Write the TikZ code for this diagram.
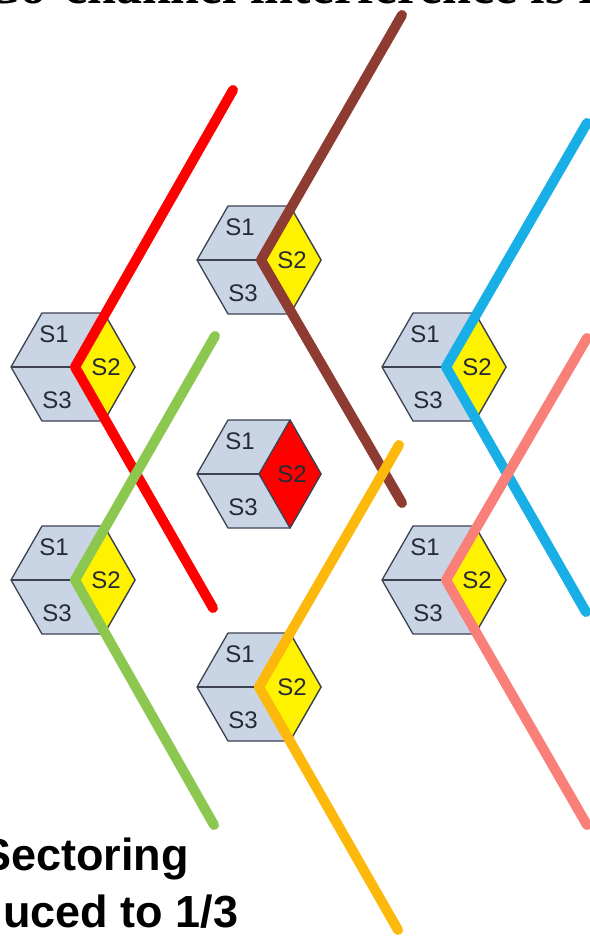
\documentclass[tikz,border=0pt]{standalone}
\usepackage{fontspec}
\setmainfont{Liberation Sans}
\newfontfamily\titlefont{Liberation Serif}
\usetikzlibrary{calc}
\definecolor{sectorblue}{HTML}{C9D4E4}
\definecolor{edgegray}{HTML}{3C4250}
\definecolor{labelgray}{HTML}{252A35}
\definecolor{brownline}{HTML}{8E3B32}
\definecolor{blueline}{HTML}{18AEE6}
\definecolor{greenline}{HTML}{8CC850}
\definecolor{orangeline}{HTML}{FDB90B}
\definecolor{salmonline}{HTML}{F98078}
\tikzset{
    sector/.style={draw=edgegray, line width=1.3pt, line join=round, fill=sectorblue},
    seclabel/.style={font=\fontsize{24}{24}\selectfont, text=labelgray, inner sep=0pt},
    bigtext/.style={font=\fontsize{45}{45}\selectfont\bfseries, inner sep=0pt, anchor=base west},
    vline/.style={line width=10pt, line cap=round, line join=round}
}
% one cell: name, x, y, colour of sector 2
\newcommand{\cell}[4]{
    \coordinate (#1) at (#2,#3);
    \draw[sector] ($(#1)+(-62,0)$) -- ++(31,-54) -- ++(62,0) -- ++(31,54) -- ++(-31,54) -- ++(-62,0) -- cycle;
    \draw[sector, fill=#4] (#1) -- ++(31,-54) -- ++(31,54) -- ++(-31,54) -- cycle;
    \draw[sector, fill=none] (#1) -- ++(-62,0);
    \node[seclabel] (#1s1) at ($(#1)+(-19,-33)$) {S1};
    \node[seclabel] (#1s2) at ($(#1)+(33,0)$) {S2};
    \node[seclabel] (#1s3) at ($(#1)+(-16,33)$) {S3};
}
\begin{document}
\begin{tikzpicture}[x=1pt, y=-1pt]
\useasboundingbox (0,0) rectangle (589,936);
\fill[white] (0,0) rectangle (589,936);

\cell{top}{259}{260}{yellow}
\cell{ul}{73}{367}{yellow}
\cell{ll}{73}{580}{yellow}
\cell{mid}{259}{474}{red}
\cell{ur}{444}{367}{yellow}
\cell{lr}{444}{580}{yellow}
\cell{bot}{259}{687}{yellow}

% ends of the lines
\coordinate (ra) at (233,90);   \coordinate (rb) at (213,608);
\coordinate (ba) at (402,15);   \coordinate (bb) at (402,503);
\coordinate (ca) at (587,123);  \coordinate (cb) at (586,612);
\coordinate (ga) at (215,336);  \coordinate (gb) at (214,825);
\coordinate (oa) at (399,445);  \coordinate (ob) at (398,930);
\coordinate (sa) at (587,338);  \coordinate (sb) at (587,825);

\draw[vline, red] (ra) -- ($(ul)+(2,0)$) -- (rb);
\draw[vline, brownline] (ba) -- ($(top)+(2,0)$) -- (bb);
\draw[vline, blueline] (ca) -- ($(ur)+(2,0)$) -- (cb);
\draw[vline, greenline] (ga) -- ($(ll)+(2,0)$) -- (gb);
\draw[vline, orangeline] (oa) -- ($(bot)+(0,0)$) -- (ob);
\draw[vline, salmonline] (sa) -- ($(lr)+(2,0)$) -- (sb);

\node[inner sep=0pt, anchor=base west, font=\titlefont\fontsize{52}{52}\selectfont\bfseries] (head) at (-17,3.5) {Co-channel interference is r};
\node[bigtext] (sect) at (-19,870) {Sectoring};
\node[bigtext] (redu) at (3,927) {uced to 1/3};
\end{tikzpicture}
\end{document}
